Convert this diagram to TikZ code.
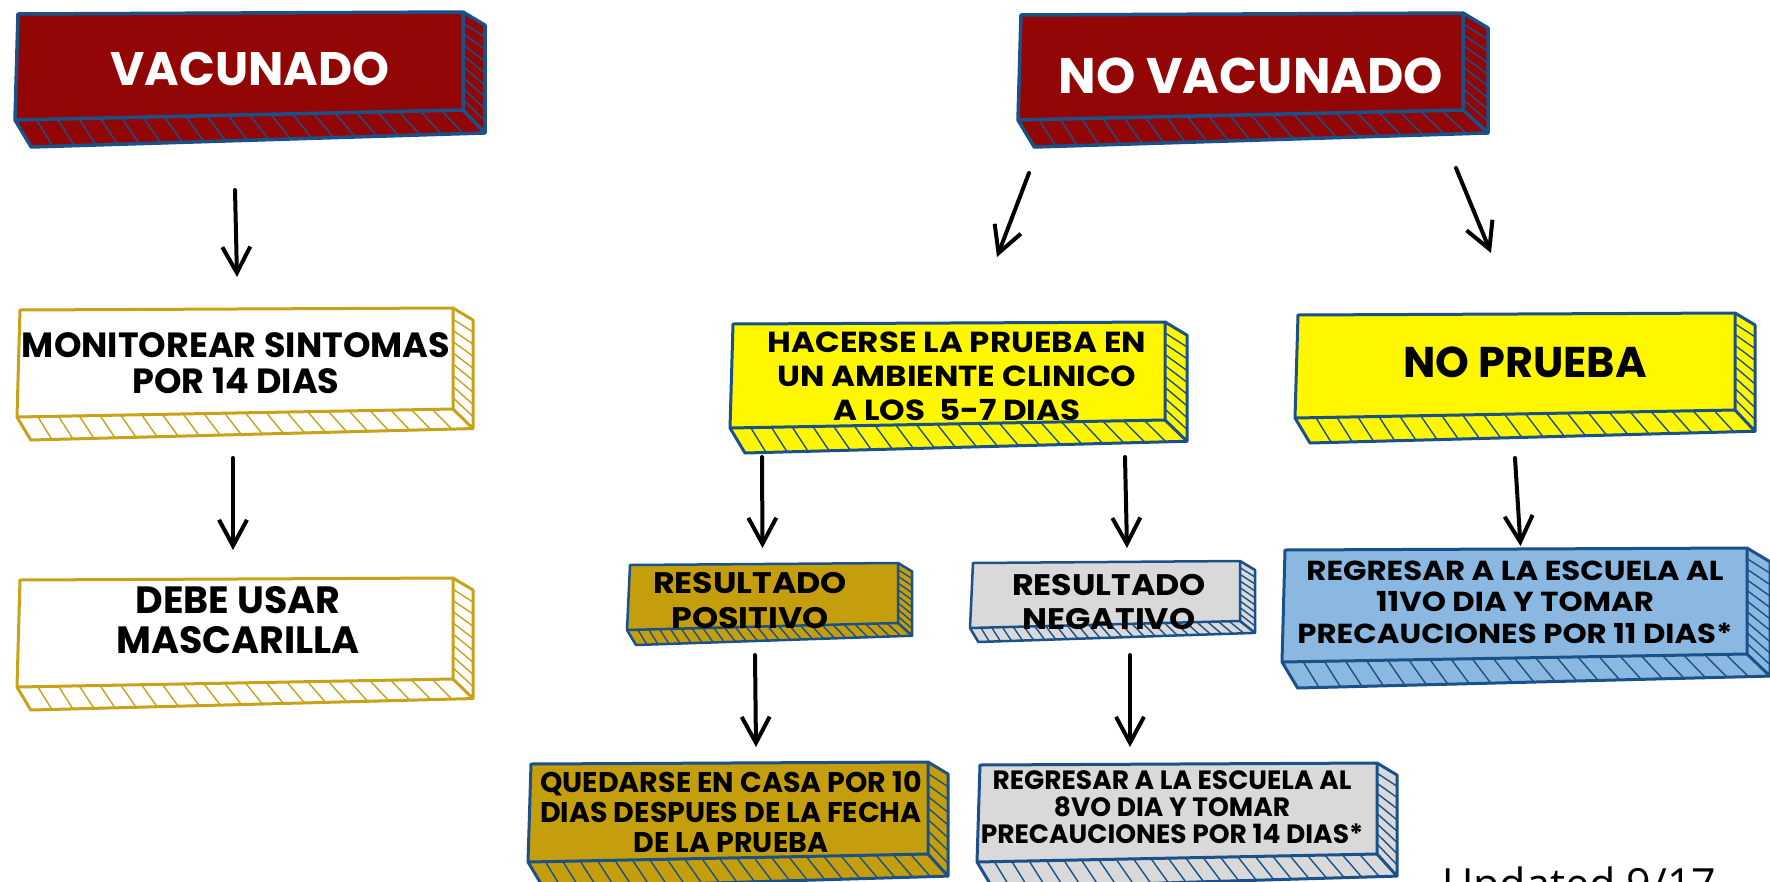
\documentclass[tikz,border=0pt]{standalone}
\usepackage{fontspec}
\setmainfont{Poppins}
\newfontfamily\wide{Poppins}[FakeStretch=1.12]
\newfontfamily\opensans{Open Sans}
\usetikzlibrary{calc,arrows.meta}
\definecolor{vred}{RGB}{147,6,6}
\definecolor{bblue}{RGB}{26,81,137}
\definecolor{yel}{RGB}{255,247,0}
\definecolor{goldf}{RGB}{196,158,12}
\definecolor{goldl}{RGB}{201,162,26}
\definecolor{grayf}{RGB}{217,217,217}
\definecolor{lblue}{RGB}{138,184,224}
\tikzset{
  boxf/.style={inner sep=0pt, outer sep=0pt, rectangle},
  hatchln/.style={line width=1.4pt, line cap=round},
  arr/.style={line width=4pt, line cap=round, line join=round,
    -{Straight Barb[length=26pt,width=28pt,line width=4pt]}},
  txt/.style={align=center, inner sep=0pt, anchor=base, text=black},
}
% #1 name, #2 fill, #3 line colour, #4 side width, #5 bottom depth,
% #6 rise of front bottom edge, #7 bottom hatch count, #8 side hatch count, #9 outline width
\newcommand\cuboid[9]{%
  \coordinate (#1-nw) at ($(#1.north west)+(3,2)$);
  \coordinate (#1-ne) at (#1.north east);
  \coordinate (#1-se) at ($(#1.south east)+(0,-#6)$);
  \coordinate (#1-sw) at (#1.south west);
  \coordinate (#1-st) at ($(#1-ne)+(#4,{0.6*#4})$);
  \coordinate (#1-k) at ($(#1-se)+(#4,{0.85*#5})$);
  \coordinate (#1-l) at ($(#1-sw)+({0.6*#5},#5)$);
  \fill[#2] (#1-nw)--(#1-ne)--(#1-se)--(#1-sw)--cycle;
  \fill[#2] (#1-ne)--(#1-st)--(#1-k)--(#1-se)--cycle;
  \fill[#2] (#1-sw)--(#1-l)--(#1-k)--(#1-se)--cycle;
  \foreach \i [evaluate=\i as \t using \i/(#7+1)] in {1,...,#7}
    \draw[hatchln,#3] ($(#1-sw)!\t!(#1-se)$) -- ($(#1-l)!\t!(#1-k)$);
  \foreach \i [evaluate=\i as \t using \i/(#8+1)] in {1,...,#8}
    \draw[hatchln,#3] ($(#1-ne)!\t!(#1-se)$) -- ($(#1-st)!\t!(#1-k)$);
  \draw[#3,line width=#9,line join=round] (#1-nw)--(#1-ne)--(#1-se)--(#1-sw)--cycle;
  \draw[#3,line width=#9,line join=round] (#1-ne)--(#1-st)--(#1-k)--(#1-se);
  \draw[#3,line width=#9,line join=round] (#1-sw)--(#1-l)--(#1-k);
}
\begin{document}
\begin{tikzpicture}[x=1pt,y=-1pt]
\useasboundingbox (0,0) rectangle (1770,881);
\fill[white] (0,0) rectangle (1770,881);

% box fronts
\node[boxf, minimum width=448pt, minimum height=108pt] (vac) at (239,66) {};
\node[boxf, minimum width=445pt, minimum height=107pt] (novac) at (1240.5,66.5) {};
\node[boxf, minimum width=436pt, minimum height=109pt] (mon) at (235,362.5) {};
\node[boxf, minimum width=436pt, minimum height=109pt] (debe) at (235,632.5) {};
\node[boxf, minimum width=435pt, minimum height=106pt] (hac) at (947.5,375) {};
\node[boxf, minimum width=440pt, minimum height=105pt] (nopr) at (1515,365.5) {};
\node[boxf, minimum width=465pt, minimum height=114pt] (reg11) at (1514.5,605) {};
\node[boxf, minimum width=271pt, minimum height=67pt] (pos) at (762.5,596.5) {};
\node[boxf, minimum width=270pt, minimum height=67pt] (neg) at (1105,594.5) {};
\node[boxf, minimum width=400pt, minimum height=100pt] (qued) at (728,812) {};
\node[boxf, minimum width=400pt, minimum height=99pt] (reg8) at (1177,812.5) {};

\cuboid{vac}{vred}{bblue}{22}{27}{10}{20}{8}{3.5pt}
\cuboid{novac}{vred}{bblue}{25}{27}{10}{20}{8}{3.5pt}
\cuboid{mon}{white}{goldl}{20}{23}{8}{20}{8}{3pt}
\cuboid{debe}{white}{goldl}{20}{23}{8}{20}{8}{3pt}
\cuboid{hac}{yel}{bblue}{22}{25}{8}{20}{8}{3pt}
\cuboid{nopr}{yel}{bblue}{20}{25}{8}{20}{8}{3pt}
\cuboid{reg11}{lblue}{bblue}{23}{26}{8}{21}{9}{3pt}
\cuboid{pos}{goldf}{bblue}{14}{15}{7}{24}{8}{2.5pt}
\cuboid{neg}{grayf}{bblue}{15}{14}{7}{24}{8}{2.5pt}
\cuboid{qued}{goldf}{bblue}{20}{26}{8}{22}{7}{3pt}
\cuboid{reg8}{grayf}{bblue}{20}{26}{8}{22}{8}{3pt}

% texts (anchor base = baseline of the last line)
\node[txt, text=white, font=\fontsize{47}{47}\selectfont\bfseries] (vac-t) at (250,85) {VACUNADO};
\node[txt, text=white, font=\fontsize{50}{50}\selectfont\bfseries] (novac-t) at (1251,93) {NO VACUNADO};
\node[txt, font=\fontsize{35}{36}\selectfont\bfseries] (mon-t) at (236,393) {MONITOREAR SINTOMAS\\POR 14 DIAS};
\node[txt, font=\fontsize{38}{40}\selectfont\bfseries] (debe-t) at (238,653) {DEBE USAR\\MASCARILLA};
\node[txt, font=\wide\fontsize{29}{34}\selectfont\bfseries] (hac-t) at (957,420) {HACERSE LA PRUEBA EN\\UN AMBIENTE CLINICO\\A LOS\ \ 5-7 DIAS};
\node[txt, font=\fontsize{43}{43}\selectfont\bfseries] (nopr-t) at (1525,377) {NO PRUEBA};
\node[txt, font=\wide\fontsize{27.5}{31.5}\selectfont\bfseries] (reg11-t) at (1515,643) {REGRESAR A LA ESCUELA AL\\11VO DIA Y TOMAR\\PRECAUCIONES POR 11 DIAS*};
\node[txt, font=\wide\fontsize{29.7}{35}\selectfont\bfseries] (pos-t) at (750,628) {RESULTADO\\POSITIVO};
\node[txt, font=\wide\fontsize{29.7}{34}\selectfont\bfseries] (neg-t) at (1109,629) {RESULTADO\\NEGATIVO};
\node[txt, font=\fontsize{28.5}{30}\selectfont\bfseries] (qued-t) at (731,852) {QUEDARSE EN CASA POR 10\\DIAS DESPUES DE LA FECHA\\DE LA PRUEBA};
\node[txt, font=\fontsize{26.5}{27}\selectfont\bfseries] (reg8-t) at (1172,843) {REGRESAR A LA ESCUELA AL\\8VO DIA Y TOMAR\\PRECAUCIONES POR 14 DIAS*};
\node[inner sep=0pt, anchor=base west, font=\opensans\fontsize{43}{43}\selectfont] (upd) at (1442,899) {Updated 9/17};

% arrows
\draw[arr] ($(vac.south)+(-4,70)$) -- ($(mon.north)+(2,-31)$);
\draw[arr] ($(mon.south)+(-2,41)$) -- ($(debe.north)+(-2,-28)$);
\draw[arr] ($(novac.south west)+(11,53)$) -- ($(hac.north)+(49.5,-65)$);
\draw[arr] ($(novac.south east)+(-7,48)$) -- ($(nopr.north)+(-24,-60)$);
\draw[arr] ($(hac.south)+(-185.5,29)$) -- ($(pos.north)+(0,-15)$);
\draw[arr] ($(hac.south)+(177.5,29)$) -- ($(neg.north)+(22,-13)$);
\draw[arr] ($(nopr.south)+(0,40)$) -- ($(reg11.north)+(6,-2)$);
\draw[arr] ($(pos.south)+(-7.5,25)$) -- ($(qued.north)+(28,-15)$);
\draw[arr] ($(neg.south)+(25,27)$) -- ($(reg8.north)+(-47,-16)$);
\end{tikzpicture}
\end{document}
